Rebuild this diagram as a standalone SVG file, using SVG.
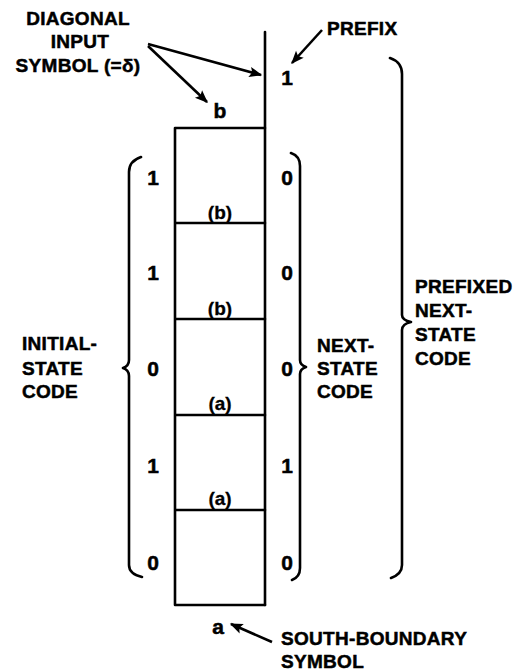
<svg xmlns="http://www.w3.org/2000/svg" width="528" height="672" viewBox="0 0 528 672">
<style>
.t{font-family:"Liberation Sans",Arial,sans-serif;font-weight:bold;font-size:19px;fill:#000;stroke:#000;stroke-width:0.5;letter-spacing:0.3px}
.d{font-family:"Liberation Sans",Arial,sans-serif;font-weight:bold;font-size:21px;fill:#000;stroke:#000;stroke-width:0.5;text-anchor:middle}
.l{font-family:"Liberation Sans",Arial,sans-serif;font-weight:bold;font-size:19px;fill:#000;stroke:#000;stroke-width:0.3;text-anchor:middle}
.ln{stroke:#000;stroke-width:2.6;fill:none;stroke-linecap:round;stroke-linejoin:round}
.ar{stroke:#000;stroke-width:2.6;fill:none;marker-end:url(#ah)}
</style>
<defs>
<marker id="ah" viewBox="0 0 10 10" refX="9" refY="5" markerWidth="6" markerHeight="5" orient="auto" markerUnits="strokeWidth">
<path d="M0,1 L10,5 L0,9 L2,5 Z" fill="#000"/>
</marker>
</defs>
<rect width="528" height="672" fill="#fff"/>
<g id="cells">
<path class="ln" d="M175,128 H265 M175,128 V605 H265 M175,223 H265 M175,319 H265 M175,415 H265 M175,510 H265"/>
<path id="axis" class="ln" d="M265,32 V605"/>
</g>
<g id="connectors">
<line class="ar" x1="148" y1="44" x2="261" y2="75"/>
<line class="ar" x1="148" y1="46" x2="207" y2="102"/>
<line class="ar" x1="322" y1="30" x2="292" y2="63"/>
<line class="ar" x1="272" y1="642" x2="231" y2="624"/>
</g>
<g id="braces">
<path class="ln" d="M141,157 Q129,161 129,172 V360 Q129,366 123,368 Q129,370 129,376 V565 Q129,574 142,577"/>
<path class="ln" d="M291,153 Q300,156 300,166 V360 Q300,365 306,367 Q300,369 300,374 V568 Q300,577 292,580"/>
<path class="ln" d="M390,58 Q402,62 402,74 V315 Q402,320 411,322 Q402,324 402,330 V565 Q402,574 391,578"/>
</g>
<g id="diagonal-label">
<text class="t" x="78" y="25" text-anchor="middle">DIAGONAL</text>
<text class="t" x="80" y="48" text-anchor="middle">INPUT</text>
<text class="t" x="78" y="72" text-anchor="middle">SYMBOL (=δ)</text>
</g>
<g id="prefix-label"><text class="t" x="327" y="35">PREFIX</text></g>
<g id="initial-label">
<text class="t" x="22" y="350">INITIAL-</text>
<text class="t" x="22" y="375">STATE</text>
<text class="t" x="22" y="398">CODE</text>
</g>
<g id="next-label">
<text class="t" x="317" y="352">NEXT-</text>
<text class="t" x="317" y="375">STATE</text>
<text class="t" x="317" y="398">CODE</text>
</g>
<g id="prefixed-label">
<text class="t" x="415" y="293">PREFIXED</text>
<text class="t" x="415" y="317">NEXT-</text>
<text class="t" x="415" y="341">STATE</text>
<text class="t" x="415" y="365">CODE</text>
</g>
<g id="south-label">
<text class="t" x="281" y="645">SOUTH-BOUNDARY</text>
<text class="t" x="281" y="668">SYMBOL</text>
</g>
<g id="symbols">
<text class="d" x="220" y="118">b</text>
<text class="d" x="287" y="85">1</text>
<text class="d" x="218" y="634">a</text>
<text class="l" x="220" y="219">(b)</text>
<text class="l" x="220" y="315">(b)</text>
<text class="l" x="220" y="410">(a)</text>
<text class="l" x="220" y="505">(a)</text>
</g>
<g id="initial-digits">
<text class="d" x="153" y="185">1</text>
<text class="d" x="153" y="280">1</text>
<text class="d" x="153" y="376">0</text>
<text class="d" x="153" y="473">1</text>
<text class="d" x="153" y="570">0</text>
</g>
<g id="next-digits">
<text class="d" x="287" y="185">0</text>
<text class="d" x="287" y="280">0</text>
<text class="d" x="287" y="376">0</text>
<text class="d" x="287" y="473">1</text>
<text class="d" x="287" y="570">0</text>
</g>
</svg>
